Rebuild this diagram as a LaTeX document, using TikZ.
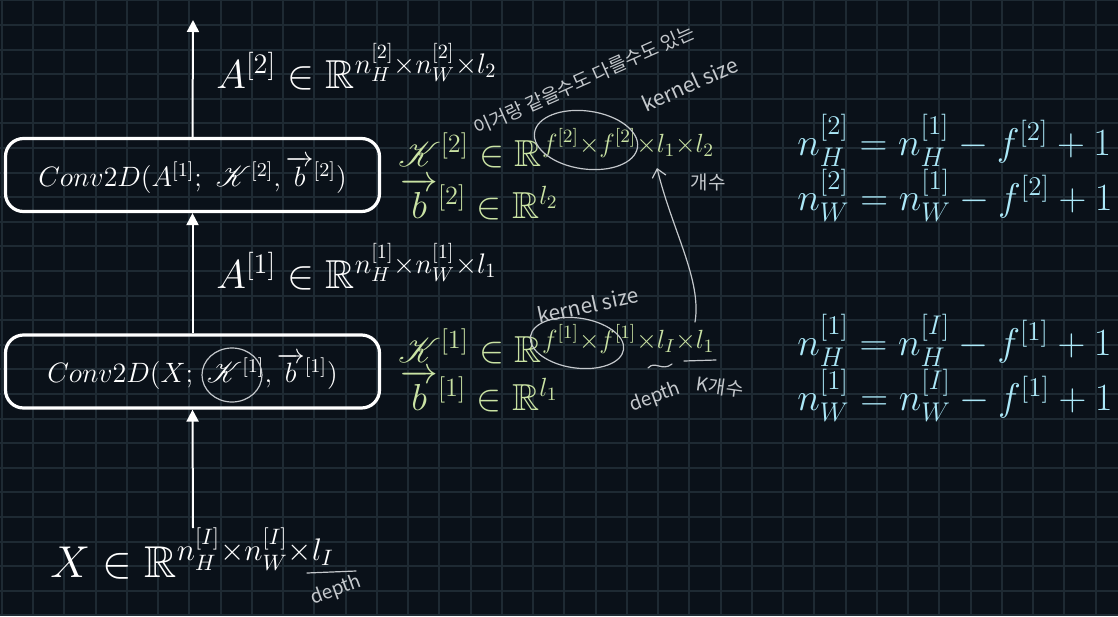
\RequirePackage{fix-cm}
\documentclass[tikz,border=0pt]{standalone}
\usepackage{amsmath}
\usepackage{amssymb}
\usepackage{mathrsfs}
\usepackage{xcolor}
\usepackage{fontspec}
\newfontfamily\handfont{Noto Sans CJK KR}
\usetikzlibrary{arrows.meta}
\definecolor{bgcol}{HTML}{0A1119}
\definecolor{gridcol}{HTML}{1E2A33}
\definecolor{kgreen}{HTML}{C9E2A3}
\definecolor{ncyan}{HTML}{ABE8F8}
\definecolor{pencol}{HTML}{C4C8CC}

\begin{document}
\begin{tikzpicture}[x=0.5pt,y=-0.5pt,
  layerbox/.style={draw=white, line width=1.6pt, rounded corners=9pt,
    minimum width=187pt, minimum height=36.5pt, inner sep=0pt, text=white,
    font=\fontsize{14}{17}\selectfont},
  flow/.style={white, line width=1pt, -{Triangle[width=6pt,length=6pt]}},
  shapelabel/.style={anchor=base west, inner sep=0pt, text=white,
    font=\fontsize{20.2}{24}\selectfont},
  kernlabel/.style={anchor=base west, inner sep=0pt, text=kgreen,
    font=\fontsize{18.8}{22}\selectfont},
  sizelabel/.style={anchor=base west, inner sep=0pt, text=ncyan,
    font=\fontsize{19.3}{23}\selectfont},
  pen/.style={pencol, line width=0.6pt, line cap=round},
  note/.style={text=pencol, inner sep=0pt, font=\handfont\fontsize{9.5}{11}\selectfont}]
\useasboundingbox (0,0) rectangle (1118,616);
\fill [bgcol] (0,0) rectangle (1118,616);
\foreach \gx in {0,...,35}
  \draw [gridcol, line width=1pt] ({1.75+31.25*\gx},0) -- ({1.75+31.25*\gx},616);
\foreach \gy in {0,...,25}
  \draw [gridcol, line width=1pt] (0,{0.4+24.6*\gy}) -- (1118,{0.4+24.6*\gy});

\node [layerbox] (conv1) at (192.5,371.5)
  {$Conv2D(X;\ \mathscr{K}^{[1]}, \overrightarrow{b}^{[1]})$};
\node [layerbox] (conv2) at (192.5,175)
  {$Conv2D(A^{[1]};\ \mathscr{K}^{[2]}, \overrightarrow{b}^{[2]})$};
\coordinate (xin) at (193,528);
\coordinate (aout) at (193,20);
\draw [flow] (xin) -- (conv1.south);
\draw [flow] (conv1.north) -- (conv2.south);
\draw [flow] (conv2.north) -- (aout);

\node [shapelabel, font=\fontsize{22.3}{26}\selectfont] (xlab) at (50,577)
  {$X \in \mathbb{R}^{n_H^{[I]}\times n_W^{[I]}\times l_I}$};
\node [shapelabel] (a1lab) at (216,288)
  {$A^{[1]} \in \mathbb{R}^{n_H^{[1]}\times n_W^{[1]}\times l_1}$};
\node [shapelabel] (a2lab) at (216,88)
  {$A^{[2]} \in \mathbb{R}^{n_H^{[2]}\times n_W^{[2]}\times l_2}$};

\node [kernlabel] (k2lab) at (398,166)
  {$\mathscr{K}^{[2]} \in \mathbb{R}^{f^{[2]}\times f^{[2]}\times l_1\times l_2}$};
\node [kernlabel] (b2lab) at (400,218)
  {$\overrightarrow{b}^{[2]} \in \mathbb{R}^{l_2}$};
\node [kernlabel] (k1lab) at (398,362)
  {$\mathscr{K}^{[1]} \in \mathbb{R}^{f^{[1]}\times f^{[1]}\times l_I\times l_1}$};
\node [kernlabel] (b1lab) at (400,410)
  {$\overrightarrow{b}^{[1]} \in \mathbb{R}^{l_1}$};

\node [sizelabel] (nh2) at (797,155) {$n_H^{[2]} = n_H^{[1]} - f^{[2]} + 1$};
\node [sizelabel] (nw2) at (797,210) {$n_W^{[2]} = n_W^{[1]} - f^{[2]} + 1$};
\node [sizelabel] (nh1) at (797,355) {$n_H^{[1]} = n_H^{[I]} - f^{[1]} + 1$};
\node [sizelabel] (nw1) at (797,410) {$n_W^{[1]} = n_W^{[I]} - f^{[1]} + 1$};

\node [note, rotate=24] (samenote) at (584,80) {이거랑 같을수도 다를수도 있는};
\node [note, rotate=24, font=\handfont\fontsize{10.5}{12}\selectfont] (ksize2) at (690,84) {kernel size};
\node [note] (cnt2) at (708,182) {개수};
\node [note, rotate=12, font=\handfont\fontsize{10.5}{12}\selectfont] (ksize1) at (588,305) {kernel size};
\node [note, rotate=20] (depth1) at (655,397) {depth};
\node [note, rotate=-8] (cnt1) at (720,387) {K개수};
\node [note, rotate=20] (depth0) at (336,590) {depth};

\draw [pen, rotate around={-8:(586,140)}] (586,140) ellipse [x radius=52, y radius=29];
\draw [pen, rotate around={-8:(577,343)}] (577,343) ellipse [x radius=47, y radius=25];
\draw [pen] (232,375) ellipse [x radius=30, y radius=27];
\draw [pen] (648,368) .. controls (655,360) and (662,372) .. (672,364);
\draw [pen] (684,361) -- (716,360);
\draw [pen] (307,573) -- (356,571);
\coordinate (lfrom) at (695,322);
\coordinate (lto) at (657,168);
\draw [pen, -{Straight Barb[length=4pt,width=7pt]}] (lfrom)
  .. controls (702,280) and (672,230) .. (lto);
\end{tikzpicture}
\end{document}
